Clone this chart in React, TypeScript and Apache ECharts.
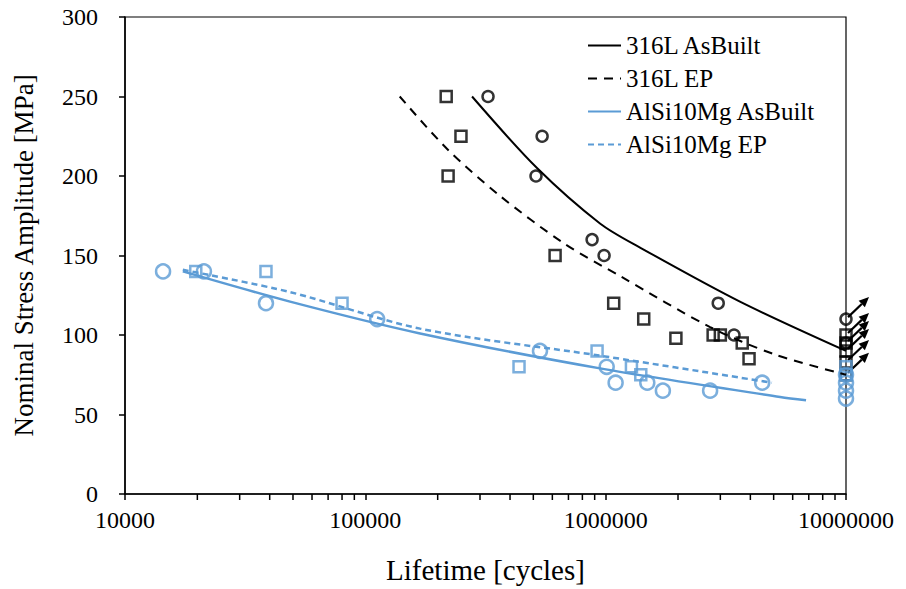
import React, { useEffect, useRef } from "react";
import * as echarts from "echarts";

const FONT = "Liberation Serif";
const BLACK = "#000000";
const BLUE = "#5B9BD5";

// Measured points [cycles, MPa]
const ss316AsBuiltPoints: number[][] = [
  [3.24e5, 250], [5.44e5, 225], [5.13e5, 200], [8.78e5, 160], [9.85e5, 150],
  [2.94e6, 120], [3.42e6, 100],
];
const ss316AsBuiltRunouts: number[][] = [[1e7, 110], [1e7, 95]];
const ss316EPPoints: number[][] = [
  [2.17e5, 250], [2.5e5, 225], [2.21e5, 200], [6.16e5, 150], [1.08e6, 120],
  [1.44e6, 110], [1.96e6, 98], [2.8e6, 100], [3.0e6, 100], [3.7e6, 95], [3.95e6, 85],
];
const ss316EPRunouts: number[][] = [[1e7, 100], [1e7, 95], [1e7, 90], [1e7, 83], [1e7, 75]];
const alAsBuiltPoints: number[][] = [
  [1.44e4, 140], [2.13e4, 140], [3.86e4, 120], [1.12e5, 110], [5.33e5, 90],
  [1.01e6, 80], [1.1e6, 70], [1.49e6, 70], [1.73e6, 65], [2.72e6, 65], [4.48e6, 70],
];
const alAsBuiltRunouts: number[][] = [[1e7, 75], [1e7, 70], [1e7, 65], [1e7, 60]];
const alEPPoints: number[][] = [
  [1.97e4, 140], [3.86e4, 140], [8.0e4, 120], [4.36e5, 80], [9.21e5, 90],
  [1.28e6, 80], [1.4e6, 75],
];
const alEPRunouts: number[][] = [[1e7, 80], [1e7, 75]];

// Fitted curves
const ss316AsBuiltFit: number[][] = [
  [2.78e5, 250], [5.18e5, 205], [9.5e5, 170], [1.39e6, 155], [3.62e6, 121], [1e7, 90],
];
const ss316EPFit: number[][] = [
  [1.39e5, 250], [2.19e5, 217], [3.6e5, 188], [6.65e5, 158], [1.15e6, 137],
  [2.72e6, 105], [5e6, 88], [1e7, 75],
];
const alAsBuiltFit: number[][] = [
  [1.74e4, 140], [4.86e4, 121], [1.69e5, 101], [9.48e5, 79], [5.32e6, 61], [6.82e6, 59],
];
const alEPFit: number[][] = [
  [1.74e4, 141], [4.86e4, 127], [1.69e5, 104], [9.48e5, 87], [4.92e6, 70],
];

// Runout arrows (stress at 10^7 cycles)
const runoutArrows: number[][] = [[1e7, 110], [1e7, 100], [1e7, 95], [1e7, 90], [1e7, 83], [1e7, 75]];

// Minor log ticks on the x axis
const xMinorTicks: number[] = [
  2e4, 3e4, 4e4, 5e4, 6e4, 7e4, 8e4, 9e4,
  2e5, 3e5, 4e5, 5e5, 6e5, 7e5, 8e5, 9e5,
  2e6, 3e6, 4e6, 5e6, 6e6, 7e6, 8e6, 9e6,
];

const legendNames = ["316L AsBuilt", "316L EP", "AlSi10Mg AsBuilt", "AlSi10Mg EP"];

export default function App() {
  const ref = useRef<HTMLDivElement>(null);
  useEffect(() => {
    if (!ref.current) return;
    const chart = echarts.init(ref.current, undefined, { renderer: "svg" });
    const hollow = (color: string, size: number, symbol: string) => ({
      type: "scatter",
      symbol,
      symbolSize: size,
      itemStyle: { color: "rgba(0,0,0,0)", borderColor: color, borderWidth: 2.5 },
      silent: true,
    });
    const fitLine = (name: string, data: number[][], color: string, width: number, type: any) => ({
      name,
      type: "line",
      data,
      symbol: "none",
      smooth: 0.3,
      lineStyle: { color, width, type },
      itemStyle: { color },
      silent: true,
    });
    chart.setOption({
      animation: false,
      grid: {
        left: 125, right: 60, top: 17, bottom: 93,
        show: true, borderColor: BLACK, borderWidth: 1.2, backgroundColor: "transparent",
      },
      legend: {
        data: legendNames,
        orient: "vertical",
        left: 582,
        top: 28,
        itemWidth: 33,
        itemHeight: 14,
        itemGap: 8,
        itemStyle: { opacity: 0 },
        textStyle: { fontFamily: FONT, fontSize: 25, color: BLACK },
      },
      xAxis: {
        type: "log",
        logBase: 10,
        min: 1e4,
        max: 1e7,
        name: "Lifetime [cycles]",
        nameLocation: "middle",
        nameGap: 61,
        nameTextStyle: { fontFamily: FONT, fontSize: 29, color: BLACK },
        axisLine: { lineStyle: { color: BLACK, width: 1.5 } },
        axisTick: { show: true, length: 6, lineStyle: { color: BLACK, width: 1.5 } },
        axisLabel: {
          fontFamily: FONT, fontSize: 24, color: BLACK, margin: 14,
          formatter: (v: number) => String(Math.round(v)),
        },
        splitLine: { show: false },
        minorTick: { show: false },
      },
      yAxis: {
        type: "value",
        min: 0,
        max: 300,
        interval: 50,
        name: "Nominal Stress Amplitude [MPa]",
        nameLocation: "middle",
        nameGap: 88,
        nameTextStyle: { fontFamily: FONT, fontSize: 27, color: BLACK },
        axisLine: { show: true, lineStyle: { color: BLACK, width: 1.5 } },
        axisTick: { show: true, length: 6, lineStyle: { color: BLACK, width: 1.5 } },
        axisLabel: { fontFamily: FONT, fontSize: 24, color: BLACK, margin: 27 },
        splitLine: { show: false },
      },
      series: [
        {
          type: "custom",
          clip: false,
          silent: true,
          data: xMinorTicks.map((v) => [v, 0]),
          renderItem: (_p: any, api: any) => {
            const c = api.coord([api.value(0), api.value(1)]);
            return {
              type: "line",
              shape: { x1: c[0], y1: c[1], x2: c[0], y2: c[1] + 6 },
              style: { stroke: BLACK, lineWidth: 1.5 },
            };
          },
        },
        fitLine("316L AsBuilt", ss316AsBuiltFit, BLACK, 2, "solid"),
        fitLine("316L EP", ss316EPFit, BLACK, 2, [9, 7]),
        { ...hollow(BLACK, 11, "circle"), data: ss316AsBuiltPoints },
        { ...hollow(BLACK, 11, "circle"), data: ss316AsBuiltRunouts },
        { ...hollow(BLACK, 11, "rect"), data: ss316EPPoints },
        { ...hollow(BLACK, 11, "rect"), data: ss316EPRunouts },
        {
          type: "custom",
          clip: false,
          silent: true,
          data: runoutArrows,
          renderItem: (_p: any, api: any) => {
            const c = api.coord([api.value(0), api.value(1)]);
            const x0 = c[0] + 2, y0 = c[1] - 2;
            const x1 = c[0] + 23, y1 = c[1] - 22;
            const dx = x1 - x0, dy = y1 - y0;
            const len = Math.sqrt(dx * dx + dy * dy);
            const ux = dx / len, uy = dy / len;
            const bx = x1 - ux * 10, by = y1 - uy * 10;
            const px = -uy * 4.5, py = ux * 4.5;
            return {
              type: "group",
              children: [
                {
                  type: "line",
                  shape: { x1: x0, y1: y0, x2: bx, y2: by },
                  style: { stroke: BLACK, lineWidth: 2.2 },
                },
                {
                  type: "polygon",
                  shape: { points: [[x1, y1], [bx + px, by + py], [bx - px, by - py]] },
                  style: { fill: BLACK },
                },
              ],
            };
          },
        },
        fitLine("AlSi10Mg AsBuilt", alAsBuiltFit, BLUE, 2.5, "solid"),
        fitLine("AlSi10Mg EP", alEPFit, BLUE, 2.5, [6, 4]),
        { ...hollow(BLUE, 14, "circle"), data: alAsBuiltPoints },
        { ...hollow(BLUE, 14, "circle"), data: alAsBuiltRunouts },
        { ...hollow(BLUE, 11, "rect"), data: alEPPoints },
        { ...hollow(BLUE, 11, "rect"), data: alEPRunouts },
      ],
    });
    return () => chart.dispose();
  }, []);
  return (
    <div
      ref={ref}
      style={{ position: "fixed", left: 0, top: 0, width: 906, height: 589, background: "#fff" }}
    />
  );
}
